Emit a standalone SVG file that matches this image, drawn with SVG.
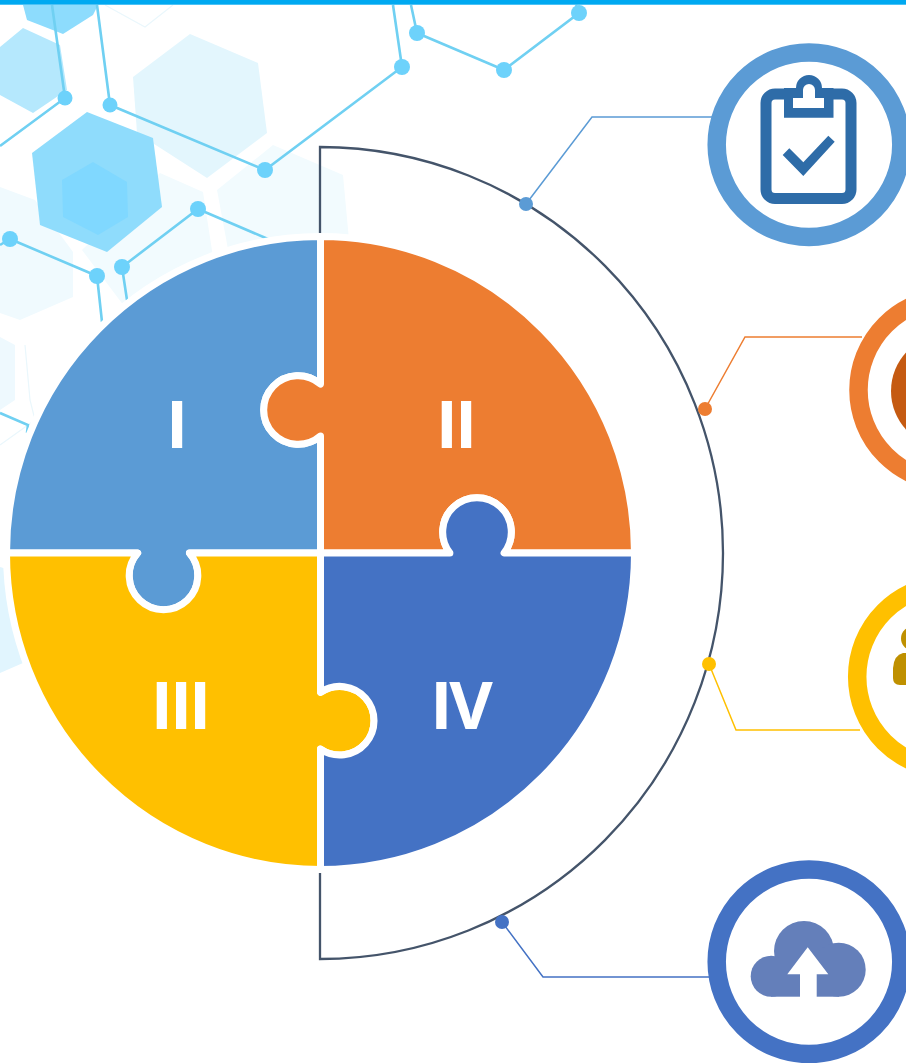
<svg xmlns="http://www.w3.org/2000/svg" width="906" height="1063" viewBox="0 0 906 1063">
<defs>
<style>
.net{stroke:#6fd0f2;stroke-width:2.6;fill:none}
.nd{fill:#6dd2fb}
.piece{stroke:#fff;stroke-width:7;stroke-linejoin:round}
.num{font-family:"Open Sans","Liberation Sans",sans-serif;font-weight:700;font-size:67px;fill:#fff;text-anchor:middle}
.tight{letter-spacing:-3px}
.ring{fill:#fff;stroke-width:18.5}
.conn{fill:none;stroke-width:1.5}
.hexline{fill:none;stroke:#eaf7fc;stroke-width:1.2}
</style>
<filter id="soft" x="-5%" y="-5%" width="110%" height="110%"><feGaussianBlur stdDeviation="0.6"/></filter>
</defs>
<rect width="906" height="1063" fill="#fff"/>
<g id="background" filter="url(#soft)">
<polygon points="217,190 273,145 343,175 349,240 320,270 230,260" fill="#f2fbfe"/>
<polygon points="160,173 203,192 213,257 127,310 82,250" fill="#f2fbfe"/>
<polygon points="0,187 35,200 73,252 73,297 20,320 0,313" fill="#f0fafe"/>
<polygon points="0,337 15,345 15,400 0,410" fill="#eef9fe"/>
<polygon points="0,567 10,570 23,663 0,673" fill="#e1f5fe"/>
<polygon points="133,77 190,34 258,63 267,133 207,178 137,133" fill="#e3f6fd"/>
<polygon points="0,47 23,28 60,45 67,90 33,113 0,95" fill="#b5e8fd"/>
<polygon points="23,5 98,5 93,15 63,34 27,20" fill="#8ddcfd"/>
<polygon points="32,153 87,112 153,138 162,207 107,252 40,225" fill="#8fdcfc"/>
<polygon points="62,180 93,162 127,182 128,217 98,235 63,217" fill="#80d8ff"/>
<polyline class="hexline" points="105,5 145,27 173,5"/>
<polyline class="hexline" points="25,345 30,400 35,420 0,445"/>
<polyline class="net" points="52,5 65,98 0,146"/>
<polyline class="net" points="97,5 110,105 265,170 402,67 393,5"/>
<polyline class="net" points="411,5 417,33 504,70 579,13 576,5"/>
<polyline class="net" points="127,300 122,267 198,209 275,242"/>
<polyline class="net" points="0,245 10,239 97,276 102,322"/>
<polyline class="net" points="0,413 28,425 27,433"/>
<circle class="nd" cx="65" cy="98" r="7.5"/>
<circle class="nd" cx="110" cy="105" r="7.5"/>
<circle class="nd" cx="265" cy="170" r="8"/>
<circle class="nd" cx="198" cy="209" r="8"/>
<circle class="nd" cx="122" cy="267" r="8"/>
<circle class="nd" cx="97" cy="276" r="8"/>
<circle class="nd" cx="10" cy="239" r="8"/>
<circle class="nd" cx="402" cy="67" r="8"/>
<circle class="nd" cx="417" cy="33" r="8"/>
<circle class="nd" cx="504" cy="70" r="8"/>
<circle class="nd" cx="579" cy="13" r="8"/>
</g>
<rect id="topbar" width="906" height="4.7" fill="#00a9f1"/>
<g id="connectors">
<path id="outer-arc" d="M320,233 V147 A403,406 0 0 1 320,959 V872" fill="none" stroke="#44546a" stroke-width="2.3"/>
<polyline class="conn" points="526,204 592,117 712,117" stroke="#5b9bd5"/>
<polyline class="conn" points="705,409 745,337 862,337" stroke="#ed7d31"/>
<polyline class="conn" points="709,664 736,730 860,730" stroke="#ffc000"/>
<polyline class="conn" points="502,922 543,977 710,977" stroke="#4472c4"/>
<circle cx="526" cy="204" r="7" fill="#5b9bd5"/>
<circle cx="705" cy="409" r="7" fill="#ed7d31"/>
<circle cx="709" cy="664" r="7" fill="#ffc000"/>
<circle cx="502" cy="922" r="7" fill="#4472c4"/>
</g>
<g id="piece-i">
<path class="piece" fill="#5b9bd5" d="M320.5,553 H189.4 A34.3,34.3 0 1 1 137.6,553 H6.5 A314,316.5 0 0 1 320.5,236.5 V384.1 A34.3,34.3 0 1 0 320.5,435.9 Z"/>
<text class="num" x="177" y="448">I</text>
</g>
<g id="piece-ii">
<path class="piece" fill="#ed7d31" d="M320.5,236.5 A314,316.5 0 0 1 634.5,553 H504.1 A34.3,34.3 0 1 0 449.9,553 H320.5 V435.9 A34.3,34.3 0 1 1 320.5,384.1 Z"/>
<text class="num tight" x="455" y="448">II</text>
</g>
<g id="piece-iii">
<path class="piece" fill="#ffc000" d="M320.5,553 H189.4 A34.3,34.3 0 1 1 137.6,553 H6.5 A314,316.5 0 0 0 320.5,869.5 V749.1 A34.3,34.3 0 1 0 320.5,692.3 Z"/>
<text class="num tight" x="179.5" y="728.5">III</text>
</g>
<g id="piece-iv">
<path class="piece" fill="#4472c4" d="M320.5,553 H449.9 A34.3,34.3 0 1 1 504.1,553 H634.5 A314,316.5 0 0 1 320.5,869.5 V749.1 A34.3,34.3 0 1 0 320.5,692.3 Z"/>
<text class="num tight" x="460" y="728.5">IV</text>
</g>
<g id="icon-clipboard">
<circle class="ring" cx="809" cy="144.7" r="92.3" stroke="#5b9bd5"/>
<rect x="766" y="94" width="85" height="104.5" rx="9" fill="none" stroke="#2e6ca8" stroke-width="11"/>
<path fill="#2e6ca8" d="M784,88 H796 A13,13 0 0 1 822,88 H833.5 V117.7 H784 Z"/>
<path fill="#fff" d="M793,98 H803 V90 A6,6 0 0 1 815,90 V98 H824 V108 H793 Z"/>
<polygon fill="#2e6ca8" points="782.7,155 789.3,148.3 803.3,162.3 828.3,135.7 834.7,141.7 803.3,176"/>
</g>
<g id="icon-orange">
<circle class="ring" cx="950.8" cy="390" r="92.3" stroke="#ed7d31"/>
<circle cx="948" cy="391" r="57" fill="#c55a11"/>
</g>
<g id="icon-person">
<circle class="ring" cx="949.5" cy="676.7" r="92.3" stroke="#ffc000"/>
<circle cx="913" cy="638.5" r="12" fill="#bf9000"/>
<path fill="#bf9000" d="M906,653 H903 Q894,655 893,668 V678 Q893,685 900,685 H906 Z"/>
</g>
<g id="icon-cloud">
<circle class="ring" cx="809" cy="961.7" r="92.3" stroke="#4472c4"/>
<g fill="#647fba">
<circle cx="804" cy="951" r="30"/>
<circle cx="838.7" cy="969.7" r="27"/>
<circle cx="771.2" cy="976.2" r="20.5"/>
<rect x="771" y="958" width="68" height="38.7"/>
</g>
<polygon fill="#fff" points="807.7,947.3 828.3,974.3 816.7,974.3 816.7,997 800,997 800,974.3 787.3,974.3"/>
</g>
</svg>
